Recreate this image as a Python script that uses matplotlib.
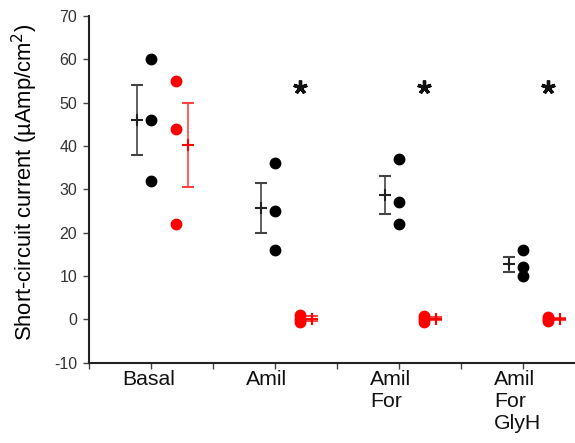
import matplotlib
matplotlib.use("Agg")
import matplotlib.pyplot as plt
import numpy as np

plt.rcParams['font.family'] = ['Liberation Sans', 'DejaVu Sans']

categories = ["Basal", "Amil", "Amil\nFor", "Amil\nFor\nGlyH"]
black_values = [[60, 46, 32], [36, 25, 16], [37, 27, 22], [16, 12, 10]]
black_mean = [46, 25.7, 28.7, 12.7]
black_err = [8.1, 5.8, 4.4, 1.8]
red_values = [[55, 44, 22], [1.0, 0.2, -0.6], [0.9, 0.2, -0.5], [0.6, 0.1, -0.4]]
red_mean = [40.3, 0.2, 0.2, 0.1]
red_err = [9.7, 0.5, 0.4, 0.3]
star_groups = [1, 2, 3]
star_y = 53.5
yticks = [-10, 0, 10, 20, 30, 40, 50, 60, 70]

fig = plt.figure(figsize=(5.75, 4.43), dpi=100)
ax = fig.add_axes([0.155, 0.181, 0.845, 0.783])

x = np.arange(len(categories))
for i in x:
    ax.plot([i] * 3, black_values[i], 'o', color='black', ms=7.5, zorder=3)
    ax.plot([i + 0.2] * 3, red_values[i], 'o', color='#ff0000', ms=7.5, zorder=3)
    ax.errorbar(i - 0.11, black_mean[i], yerr=black_err[i], fmt='+', color='#222222',
                ecolor='#444444', ms=9, mew=1.5, capsize=4.5, elinewidth=1.2, capthick=1.2)
    ax.errorbar(i + 0.3, red_mean[i], yerr=red_err[i], fmt='+', color='#ff0000',
                ecolor='#ff4444', ms=9, mew=1.5, capsize=4.5, elinewidth=1.2, capthick=1.2)

ax.plot(np.array(star_groups) + 0.2, [star_y] * len(star_groups), linestyle='none',
        marker=(5, 2), ms=10, mew=2.4, color='#111111')

ax.set_xlim(-0.5, 3.42)
ax.set_ylim(-10, 70)
ax.set_yticks(yticks)
ax.set_yticklabels([str(t) for t in yticks], fontsize=11.5, color='#333333')
ax.set_xticks(x)
ax.set_xticks(np.arange(-0.5, 3.5, 0.5), minor=True)
ax.set_xticklabels([])
for i, cat in enumerate(categories):
    ax.annotate(cat, xy=(x[i], 0), xycoords=('data', 'axes fraction'),
                xytext=(-21, -5.5), textcoords='offset points',
                ha='left', va='top', fontsize=15.3, linespacing=1.2,
                multialignment='left', color='#111111')
ax.tick_params(axis='x', which='both', direction='out', length=4, width=1, color='#444444')
ax.tick_params(axis='y', direction='out', length=4, width=1, color='#444444', pad=4.5)
for s in ['top', 'right']:
    ax.spines[s].set_visible(False)
for s in ['left', 'bottom']:
    ax.spines[s].set_linewidth(1.5)
    ax.spines[s].set_color('#222222')
ax.set_ylabel('Short-circuit current (µAmp/cm$^2$)', fontsize=15.8)
ax.yaxis.set_label_coords(-0.102, 0.52)

fig.savefig('out.png', dpi=100)
